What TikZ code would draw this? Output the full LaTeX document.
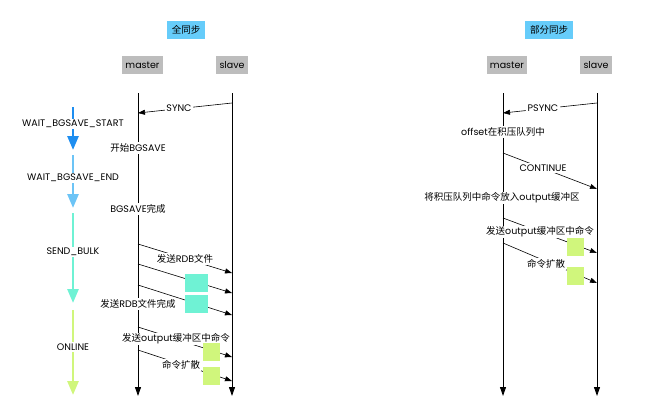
\documentclass[tikz,border=0pt]{standalone}
\usepackage{fontspec}
\setmainfont{Poppins}
\newfontfamily\cjk{Noto Sans CJK SC}
\usetikzlibrary{arrows.meta}

\newcommand{\zh}[1]{{\cjk #1}}

\begin{document}
\begin{tikzpicture}[x=1pt, y=-1pt, font=\fontsize{9.5}{11}\selectfont,
    titlebox/.style={fill=titleColour, inner sep=0pt, minimum height=18},
    rolebox/.style={fill=roleColour, inner sep=0pt, minimum height=18},
    lifeline/.style={line width=0.9pt, -{Triangle[length=9pt, width=6pt]}},
    message/.style={line width=0.6pt, -{Triangle[length=7pt, width=5pt]}},
    steplabel/.style={fill=white, inner sep=1.2pt},
    statearrow/.style={line width=2.6pt, -{Triangle[length=14pt, width=11pt]}},
    datablock/.style={inner sep=0pt, minimum width=#1, minimum height=18}]
    % Define colours
    \definecolor{titleColour}{HTML}{66CCFA}
    \definecolor{roleColour}{HTML}{BDBDBD}
    \definecolor{startColour}{HTML}{1E8EF0}
    \definecolor{endColour}{HTML}{6CC4F6}
    \definecolor{bulkColour}{HTML}{6FF2D4}
    \definecolor{onlineColour}{HTML}{D0F67C}

    % Fix the page size
    \useasboundingbox (0,0) rectangle (650,418);

    % Define lifeline positions
    \def\fullMaster{138}
    \def\fullSlave{232}
    \def\partMaster{503}
    \def\partSlave{597}
    \def\lineTop{93}
    \def\lineBottom{396}

    % Draw titles and roles
    \node[titlebox, minimum width=38] (fullTitle) at (186,30) {\zh{全同步}};
    \node[rolebox, minimum width=41] (fullMasterBox) at (142.5,65) {master};
    \node[rolebox, minimum width=32] (fullSlaveBox) at (232,65) {slave};
    \node[titlebox, minimum width=48] (partTitle) at (549,30) {\zh{部分同步}};
    \node[rolebox, minimum width=40] (partMasterBox) at (507,65) {master};
    \node[rolebox, minimum width=32] (partSlaveBox) at (596,65) {slave};

    % Define coordinates for the lifelines
    \coordinate (fmTop) at (\fullMaster,\lineTop);
    \coordinate (fmBot) at (\fullMaster,\lineBottom);
    \coordinate (fsTop) at (\fullSlave,\lineTop);
    \coordinate (fsBot) at (\fullSlave,\lineBottom);
    \coordinate (pmTop) at (\partMaster,\lineTop);
    \coordinate (pmBot) at (\partMaster,\lineBottom);
    \coordinate (psTop) at (\partSlave,\lineTop);
    \coordinate (psBot) at (\partSlave,\lineBottom);

    % Draw lifelines
    \draw[lifeline] (fmTop) -- (fmBot);
    \draw[lifeline] (fsTop) -- (fsBot);
    \draw[lifeline] (pmTop) -- (pmBot);
    \draw[lifeline] (psTop) -- (psBot);

    % Define coordinates for the full sync messages
    \coordinate (syncA) at (\fullSlave,103);
    \coordinate (syncB) at (\fullMaster,113);
    \coordinate (rdbA1) at (\fullMaster,244);
    \coordinate (rdbB1) at (\fullSlave,273);
    \coordinate (rdbA2) at (\fullMaster,264);
    \coordinate (rdbB2) at (\fullSlave,293);
    \coordinate (rdbA3) at (\fullMaster,285);
    \coordinate (rdbB3) at (\fullSlave,315);
    \coordinate (fcmdA1) at (\fullMaster,327);
    \coordinate (fcmdB1) at (\fullSlave,357);
    \coordinate (fcmdA2) at (\fullMaster,350);
    \coordinate (fcmdB2) at (\fullSlave,381);

    % Draw full sync messages
    \draw[message] (syncA) -- (syncB);
    \draw[message] (rdbA1) -- (rdbB1);
    \draw[message] (rdbA2) -- (rdbB2);
    \draw[message] (rdbA3) -- (rdbB3);
    \draw[message] (fcmdA1) -- (fcmdB1);
    \draw[message] (fcmdA2) -- (fcmdB2);

    % Label full sync steps
    \node[steplabel] (syncLabel) at (179,108) {SYNC};
    \node[steplabel] (bgStart) at (\fullMaster,148) {\zh{开始}BGSAVE};
    \node[steplabel] (bgDone) at (\fullMaster,209) {BGSAVE\zh{完成}};
    \node[steplabel] (rdbSend) at (185,259) {\zh{发送}RDB\zh{文件}};
    \node[steplabel] (rdbDone) at (\fullMaster,304) {\zh{发送}RDB\zh{文件完成}};
    \node[steplabel] (fullBuffer) at (176,339) {\zh{发送}output\zh{缓冲区中命令}};
    \node[steplabel] (fullSpread) at (181,365) {\zh{命令扩散}};

    % Draw data blocks
    \node[datablock=23, fill=bulkColour] (rdbBlock1) at (196,282.5) {};
    \node[datablock=23, fill=bulkColour] (rdbBlock2) at (196,304) {};
    \node[datablock=17, fill=onlineColour] (fullCmdBlock1) at (211,352) {};
    \node[datablock=17, fill=onlineColour] (fullCmdBlock2) at (211,376) {};

    % Define coordinates for the partial sync messages
    \coordinate (psyncA) at (\partSlave,103);
    \coordinate (psyncB) at (\partMaster,113);
    \coordinate (contA) at (\partMaster,153);
    \coordinate (contB) at (\partSlave,189);
    \coordinate (pcmdA1) at (\partMaster,218);
    \coordinate (pcmdB1) at (\partSlave,253);
    \coordinate (pcmdA2) at (\partMaster,243);
    \coordinate (pcmdB2) at (\partSlave,283);

    % Draw partial sync messages
    \draw[message] (psyncA) -- (psyncB);
    \draw[message] (contA) -- (contB);
    \draw[message] (pcmdA1) -- (pcmdB1);
    \draw[message] (pcmdA2) -- (pcmdB2);

    % Label partial sync steps
    \node[steplabel] (psyncLabel) at (543,108) {PSYNC};
    \node[steplabel] (offsetFound) at (\partMaster,132) {offset\zh{在积压队列中}};
    \node[steplabel] (contLabel) at (543,168) {CONTINUE};
    \node[steplabel] (backlogCopy) at (502,198) {\zh{将积压队列中命令放入}output\zh{缓冲区}};
    \node[steplabel] (partBuffer) at (540,232) {\zh{发送}output\zh{缓冲区中命令}};
    \node[steplabel] (partSpread) at (546,264) {\zh{命令扩散}};

    % Draw data blocks
    \node[datablock=17, fill=onlineColour] (partCmdBlock1) at (575.5,246.5) {};
    \node[datablock=17, fill=onlineColour] (partCmdBlock2) at (575.5,275.5) {};

    % Define coordinates for the state arrows
    \coordinate (waitStartA) at (73,107);
    \coordinate (waitStartB) at (73,150);
    \coordinate (waitEndA) at (73,155);
    \coordinate (waitEndB) at (73,208);
    \coordinate (sendBulkA) at (73,213);
    \coordinate (sendBulkB) at (73,303);
    \coordinate (onlineA) at (73,310);
    \coordinate (onlineB) at (73,395);

    % Draw state arrows
    \draw[statearrow, startColour] (waitStartA) -- (waitStartB);
    \draw[statearrow, endColour] (waitEndA) -- (waitEndB);
    \draw[statearrow, bulkColour] (sendBulkA) -- (sendBulkB);
    \draw[statearrow, onlineColour] (onlineA) -- (onlineB);

    % Label states
    \node[steplabel] (waitStart) at (73,124) {WAIT\_BGSAVE\_START};
    \node[steplabel] (waitEnd) at (73,178) {WAIT\_BGSAVE\_END};
    \node[steplabel] (sendBulk) at (73,252) {SEND\_BULK};
    \node[steplabel] (online) at (73,347) {ONLINE};

\end{tikzpicture}
\end{document}
